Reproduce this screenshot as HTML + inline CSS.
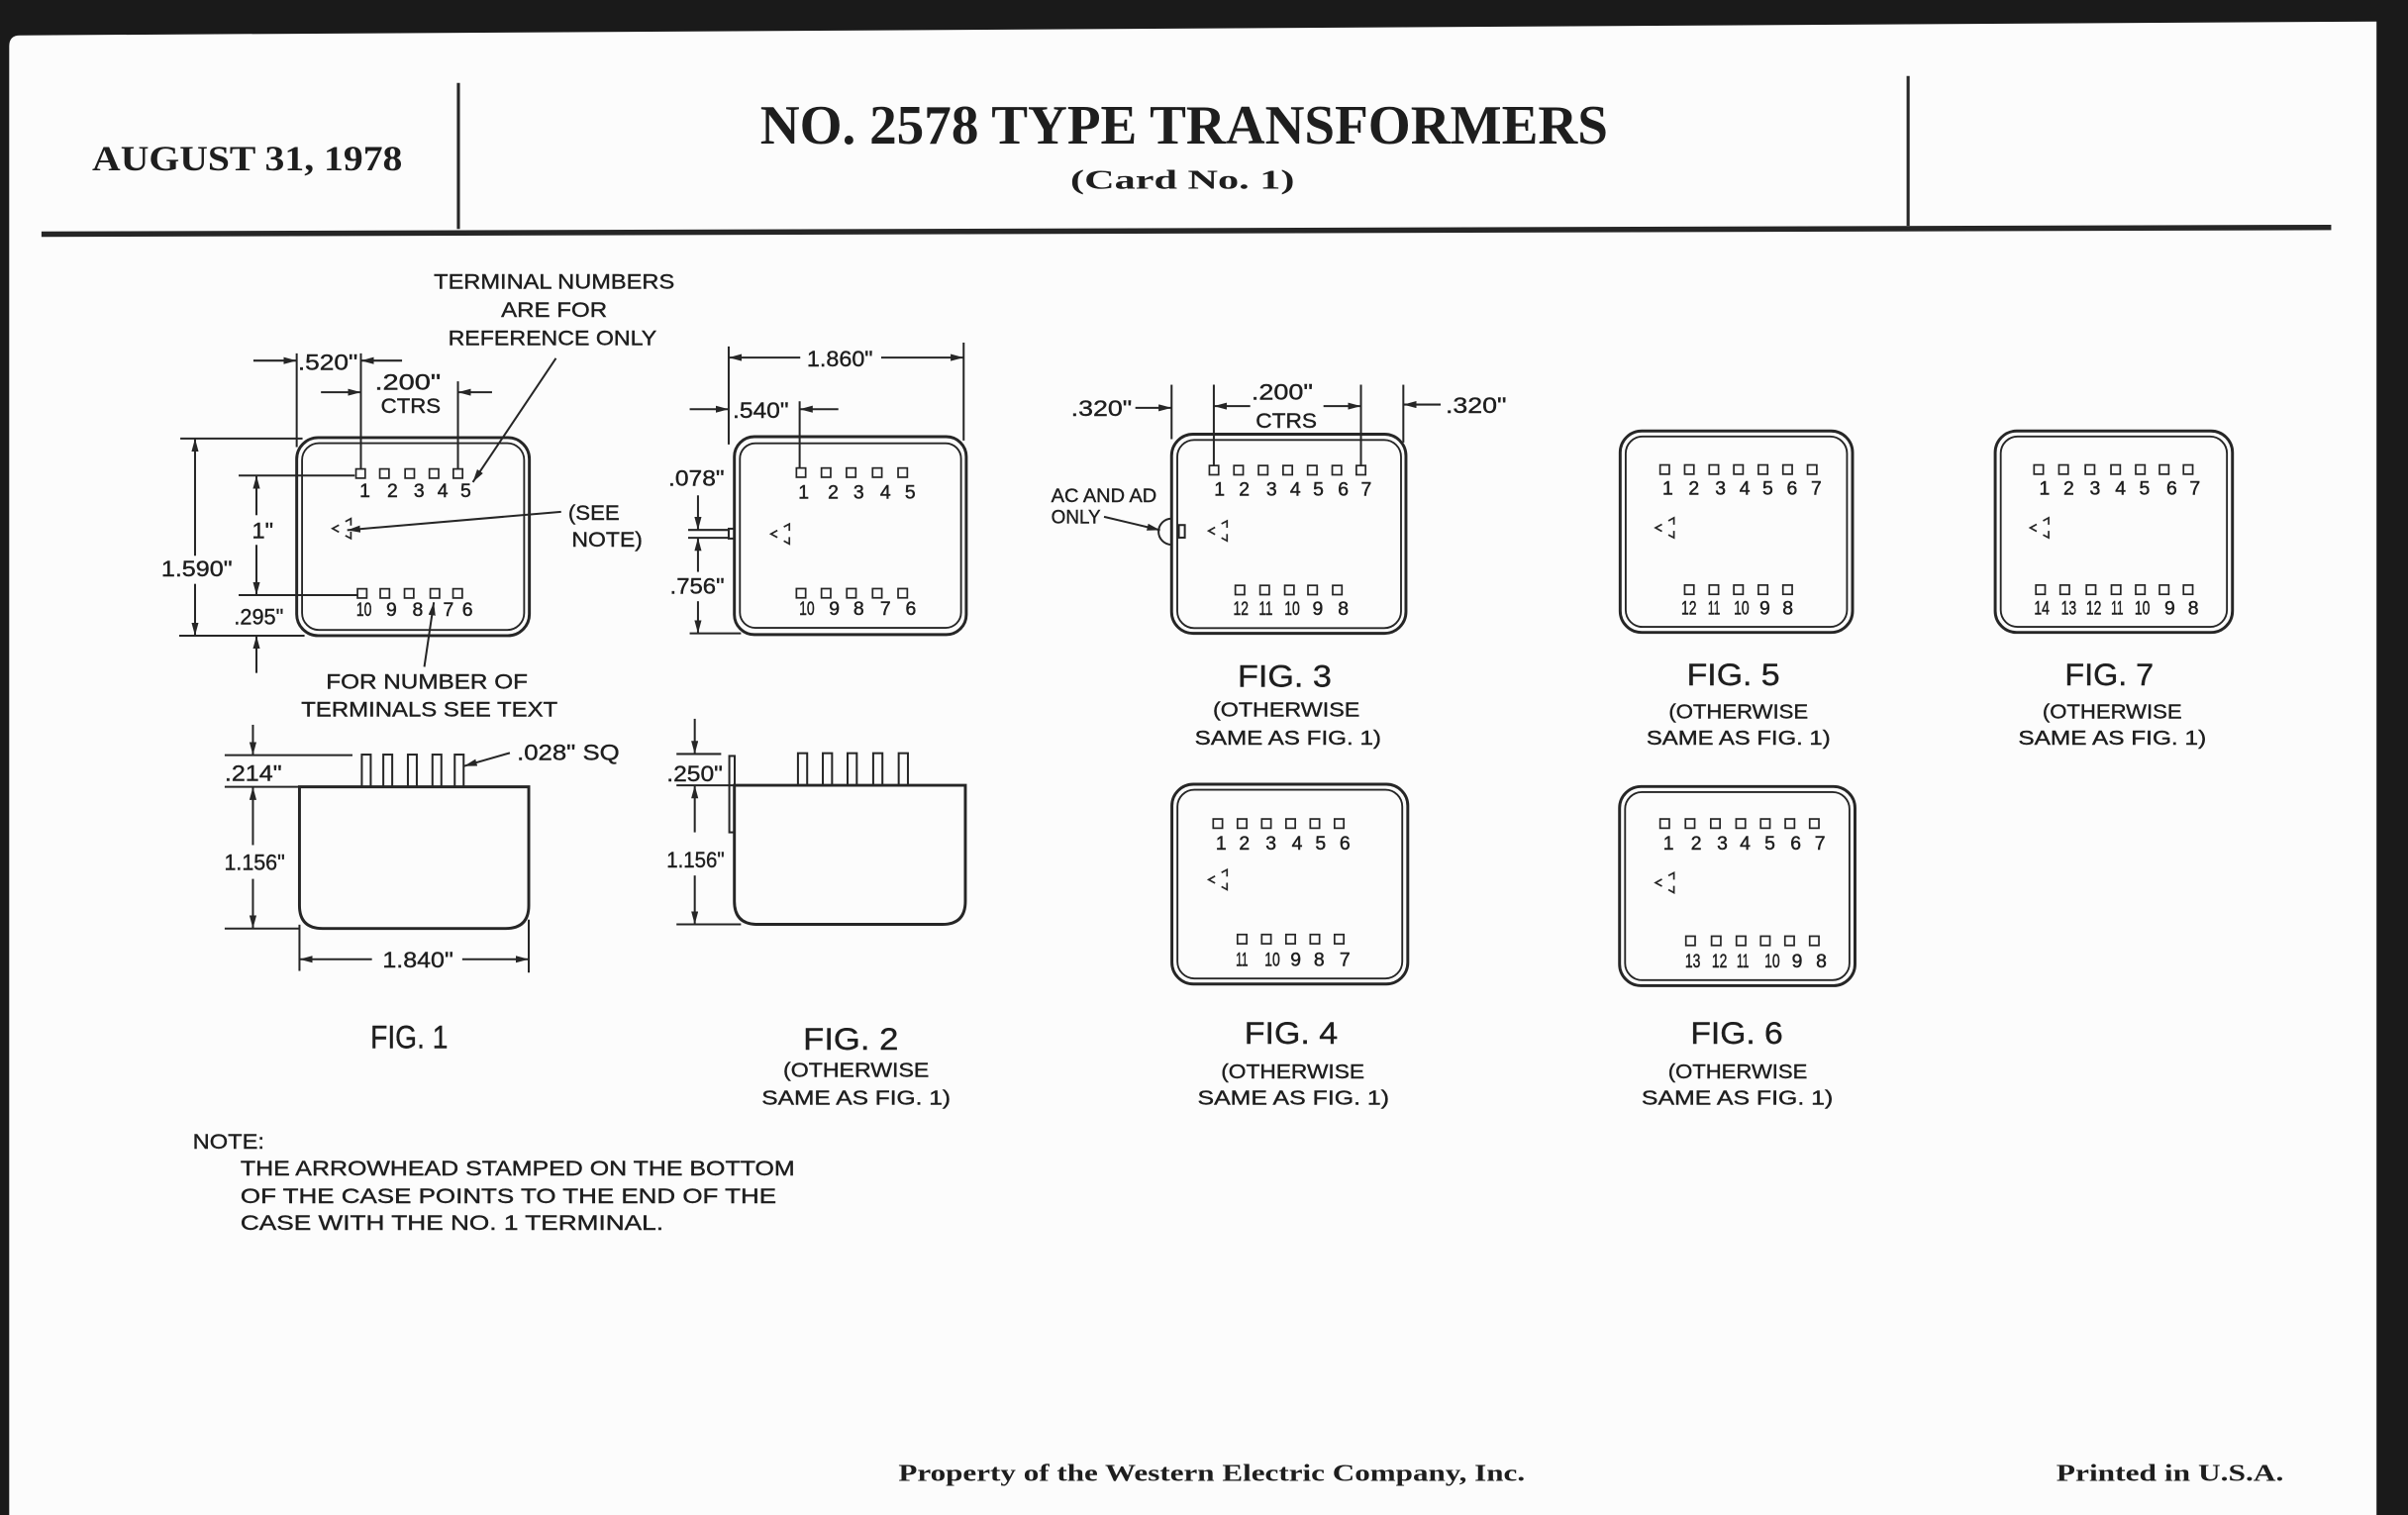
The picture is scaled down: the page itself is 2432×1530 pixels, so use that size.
<!DOCTYPE html>
<html><head><meta charset="utf-8"><style>
html,body{margin:0;padding:0;background:#1a1a1a;}
svg{display:block;}
.t{font-family:"Liberation Sans",sans-serif;fill:#1e1e1e;stroke:#1e1e1e;stroke-width:0.25;}
.h{font-family:"Liberation Serif",serif;font-weight:bold;fill:#1e1e1e;}
.ln{stroke:#262626;stroke-width:1.3;fill:none;}
.ob{stroke:#262626;stroke-width:1.9;fill:none;}
.ib{stroke:#262626;stroke-width:1.2;fill:none;}
.n{font-family:"Liberation Sans",sans-serif;fill:#1e1e1e;stroke:#1e1e1e;stroke-width:0.3;font-size:12.5px;text-anchor:middle;}
</style></head><body>
<svg width="2432" height="1530" viewBox="0 0 1568 986" preserveAspectRatio="none" xmlns="http://www.w3.org/2000/svg">
<defs>
<marker id="a" markerUnits="userSpaceOnUse" markerWidth="10" markerHeight="6" refX="8.5" refY="2.3" orient="auto"><path d="M0,0 L8.5,2.3 L0,4.6 z" fill="#262626"/></marker>
<g id="s"><rect x="-3" y="0" width="6" height="6" fill="none" stroke="#262626" stroke-width="1.1"/></g>
<g id="st"><path d="M4.2 4.2 L0 6.5 L4.2 8.8 M8.4 1.95 L12 0 L12 4.5 M12 8.5 L12 13 L8.4 11.05" fill="none" stroke="#262626" stroke-width="1.1"/></g>
</defs>
<rect x="0" y="0" width="1568" height="986" fill="#1a1a1a"/>
<path d="M6,30 Q6,23 13,23 L1547.5,14 L1547.5,986 L6,986 Z" fill="#fcfcfc"/>

<!-- header -->
<line x1="298.5" y1="54" x2="298.5" y2="149" stroke="#262626" stroke-width="2"/>
<line x1="1242.5" y1="49.5" x2="1242.5" y2="147" stroke="#262626" stroke-width="2"/>
<line x1="27" y1="152.4" x2="1518" y2="148" stroke="#262626" stroke-width="3.5"/>
<text class="h" x="60" y="110.7" font-size="23" textLength="202" lengthAdjust="spacingAndGlyphs">AUGUST 31, 1978</text>
<text class="h" x="495" y="93.5" font-size="36" textLength="552" lengthAdjust="spacingAndGlyphs">NO. 2578 TYPE TRANSFORMERS</text>
<text class="h" x="697" y="122.9" font-size="18" textLength="146" lengthAdjust="spacingAndGlyphs">(Card No. 1)</text>
<text class="h" x="585" y="963.9" font-size="15.5" textLength="408" lengthAdjust="spacingAndGlyphs">Property of the Western Electric Company, Inc.</text>
<text class="h" x="1339" y="963.9" font-size="15.5" textLength="148" lengthAdjust="spacingAndGlyphs">Printed in U.S.A.</text>

<!-- FIG 1 top view -->
<rect class="ob" x="193.2" y="284.8" width="151.5" height="128.9" rx="14"/>
<rect class="ib" x="196.7" y="288.4" width="144.6" height="121.6" rx="11"/>
<use href="#s" x="234.8" y="305.2"/><use href="#s" x="250.3" y="305.2"/><use href="#s" x="266.8" y="305.2"/><use href="#s" x="282.6" y="305.2"/><use href="#s" x="298.2" y="305.2"/>
<text class="n" x="237.6" y="323.4">1</text><text class="n" x="255.6" y="323.4">2</text><text class="n" x="272.9" y="323.4">3</text><text class="n" x="288.3" y="323.4">4</text><text class="n" x="303.3" y="323.4">5</text>
<use href="#s" x="235.8" y="383.2"/><use href="#s" x="250.6" y="383.2"/><use href="#s" x="266.4" y="383.2"/><use href="#s" x="283.2" y="383.2"/><use href="#s" x="298" y="383.2"/>
<text class="n" x="237" y="400.8" textLength="10" lengthAdjust="spacingAndGlyphs">10</text><text class="n" x="254.9" y="400.8">9</text><text class="n" x="272" y="400.8">8</text><text class="n" x="292" y="400.8">7</text><text class="n" x="304.4" y="400.8">6</text>
<use href="#st" x="216.5" y="337.5"/>
<!-- fig1 dims -->
<line class="ln" x1="193.2" y1="230" x2="193.2" y2="291"/>
<line class="ln" x1="235" y1="230" x2="235" y2="305.2"/>
<line class="ln" x1="165" y1="234.7" x2="193.2" y2="234.7" marker-end="url(#a)"/>
<line class="ln" x1="261.8" y1="234.7" x2="235" y2="234.7" marker-end="url(#a)"/>
<text class="t" x="194" y="240.7" font-size="14.5" textLength="39" lengthAdjust="spacingAndGlyphs">.520"</text>
<line class="ln" x1="209" y1="255.3" x2="235" y2="255.3" marker-end="url(#a)"/>
<line class="ln" x1="320.4" y1="255.3" x2="298.2" y2="255.3" marker-end="url(#a)"/>
<line class="ln" x1="298.2" y1="248.2" x2="298.2" y2="305.2"/>
<text class="t" x="244" y="253.6" font-size="14.5" textLength="43" lengthAdjust="spacingAndGlyphs">.200"</text>
<text class="t" x="248" y="268.6" font-size="14" textLength="39" lengthAdjust="spacingAndGlyphs">CTRS</text>
<line class="ln" x1="117.4" y1="285.4" x2="197" y2="285.4"/>
<line class="ln" x1="116.7" y1="413.7" x2="198.3" y2="413.7"/>
<line class="ln" x1="127" y1="361.7" x2="127" y2="285.4" marker-end="url(#a)"/>
<line class="ln" x1="127" y1="380" x2="127" y2="413.7" marker-end="url(#a)"/>
<text class="t" x="105" y="375" font-size="14.5" textLength="46.3" lengthAdjust="spacingAndGlyphs">1.590"</text>
<line class="ln" x1="155.4" y1="309.5" x2="231" y2="309.5"/>
<line class="ln" x1="155.4" y1="387.3" x2="232.5" y2="387.3"/>
<line class="ln" x1="167" y1="335.3" x2="167" y2="309.5" marker-end="url(#a)"/>
<line class="ln" x1="167" y1="354.6" x2="167" y2="387.3" marker-end="url(#a)"/>
<text class="t" x="164" y="350.3" font-size="14.5" textLength="14" lengthAdjust="spacingAndGlyphs">1"</text>
<line class="ln" x1="167" y1="438" x2="167" y2="413.7" marker-end="url(#a)"/>
<text class="t" x="152.4" y="406.2" font-size="14.5" textLength="32.2" lengthAdjust="spacingAndGlyphs">.295"</text>
<text class="t" x="282.5" y="188" font-size="13.5" textLength="156.7" lengthAdjust="spacingAndGlyphs">TERMINAL NUMBERS</text>
<text class="t" x="326.3" y="206.3" font-size="13.5" textLength="69" lengthAdjust="spacingAndGlyphs">ARE FOR</text>
<text class="t" x="291.8" y="224.6" font-size="13.5" textLength="135.8" lengthAdjust="spacingAndGlyphs">REFERENCE ONLY</text>
<line class="ln" x1="362" y1="233.2" x2="307.9" y2="313.8" marker-end="url(#a)"/>
<text class="t" x="370" y="338.5" font-size="14" textLength="33.4" lengthAdjust="spacingAndGlyphs">(SEE</text>
<text class="t" x="372.3" y="355.7" font-size="14" textLength="46.1" lengthAdjust="spacingAndGlyphs">NOTE)</text>
<line class="ln" x1="365.4" y1="333.1" x2="226.1" y2="345" marker-end="url(#a)"/>
<text class="t" x="212.3" y="448.1" font-size="13.5" textLength="131.3" lengthAdjust="spacingAndGlyphs">FOR NUMBER OF</text>
<text class="t" x="196.2" y="466.4" font-size="13.5" textLength="166.9" lengthAdjust="spacingAndGlyphs">TERMINALS SEE TEXT</text>
<line class="ln" x1="276.3" y1="434" x2="282.5" y2="392" marker-end="url(#a)"/>

<!-- FIG 1 side view -->
<path class="ob" d="M195,512.1 L195,589.3 Q195,604.3 210,604.3 L329.3,604.3 Q344.3,604.3 344.3,589.3 L344.3,512.1 Z"/>
<rect class="ln" x="235.6" y="491.1" width="5.8" height="21"/>
<rect class="ln" x="249.6" y="491.1" width="5.8" height="21"/>
<rect class="ln" x="265.6" y="491.1" width="5.8" height="21"/>
<rect class="ln" x="281.6" y="491.1" width="5.8" height="21"/>
<rect class="ln" x="296.1" y="491.1" width="5.8" height="21"/>
<text class="t" x="336.6" y="494.7" font-size="14.5" textLength="66.8" lengthAdjust="spacingAndGlyphs">.028" SQ</text>
<line class="ln" x1="332" y1="490" x2="302.1" y2="498.6" marker-end="url(#a)"/>
<line class="ln" x1="146.3" y1="491.5" x2="229.5" y2="491.5"/>
<line class="ln" x1="146.3" y1="512.1" x2="195" y2="512.1"/>
<line class="ln" x1="164.7" y1="471.7" x2="164.7" y2="491.5" marker-end="url(#a)"/>
<text class="t" x="146.3" y="508.3" font-size="14.5" textLength="37.2" lengthAdjust="spacingAndGlyphs">.214"</text>
<line class="ln" x1="164.7" y1="550" x2="164.7" y2="512.1" marker-end="url(#a)"/>
<line class="ln" x1="164.7" y1="572" x2="164.7" y2="604.3" marker-end="url(#a)"/>
<text class="t" x="146" y="566.3" font-size="14.5" textLength="39.5" lengthAdjust="spacingAndGlyphs">1.156"</text>
<line class="ln" x1="146.3" y1="604.3" x2="195" y2="604.3"/>
<line class="ln" x1="195" y1="601.8" x2="195" y2="631.9"/>
<line class="ln" x1="344.3" y1="598.5" x2="344.3" y2="633"/>
<line class="ln" x1="242.2" y1="624.3" x2="195" y2="624.3" marker-end="url(#a)"/>
<line class="ln" x1="301" y1="624.3" x2="344.3" y2="624.3" marker-end="url(#a)"/>
<text class="t" x="249.1" y="629.7" font-size="14.5" textLength="46.1" lengthAdjust="spacingAndGlyphs">1.840"</text>
<text class="t" x="241.2" y="682.3" font-size="21" textLength="50.5" lengthAdjust="spacingAndGlyphs">FIG. 1</text>

<!-- FIG 2 top view -->
<rect class="ob" x="478.2" y="284.2" width="151" height="128.8" rx="13"/>
<rect class="ib" x="481.8" y="288.5" width="144" height="120.1" rx="10"/>
<use href="#s" x="521.6" y="304.6"/><use href="#s" x="537.9" y="304.6"/><use href="#s" x="554.2" y="304.6"/><use href="#s" x="571.2" y="304.6"/><use href="#s" x="587.8" y="304.6"/>
<text class="n" x="523.3" y="324.5">1</text><text class="n" x="542.6" y="324.5">2</text><text class="n" x="559.2" y="324.5">3</text><text class="n" x="576.6" y="324.5">4</text><text class="n" x="592.7" y="324.5">5</text>
<use href="#s" x="521.6" y="383.1"/><use href="#s" x="537.9" y="383.1"/><use href="#s" x="554.4" y="383.1"/><use href="#s" x="571.2" y="383.1"/><use href="#s" x="587.8" y="383.1"/>
<text class="n" x="525.4" y="400.2" textLength="10" lengthAdjust="spacingAndGlyphs">10</text><text class="n" x="543.3" y="400.2">9</text><text class="n" x="559.2" y="400.2">8</text><text class="n" x="576.6" y="400.2">7</text><text class="n" x="593.1" y="400.2">6</text>
<use href="#st" x="502" y="341"/>
<rect class="ln" x="474.5" y="344.1" width="3.7" height="6.4"/>
<line class="ln" x1="474.5" y1="225.5" x2="474.5" y2="289.3"/>
<line class="ln" x1="627.5" y1="223" x2="627.5" y2="286.7"/>
<line class="ln" x1="521.1" y1="232.7" x2="474.5" y2="232.7" marker-end="url(#a)"/>
<line class="ln" x1="573.8" y1="232.7" x2="627.5" y2="232.7" marker-end="url(#a)"/>
<text class="t" x="525.4" y="238.3" font-size="14.5" textLength="43" lengthAdjust="spacingAndGlyphs">1.860"</text>
<line class="ln" x1="449.1" y1="266.3" x2="474.5" y2="266.3" marker-end="url(#a)"/>
<line class="ln" x1="545.9" y1="266.3" x2="520.7" y2="266.3" marker-end="url(#a)"/>
<line class="ln" x1="520.7" y1="261.2" x2="520.7" y2="304.6"/>
<text class="t" x="477.1" y="272" font-size="14.5" textLength="36.5" lengthAdjust="spacingAndGlyphs">.540"</text>
<text class="t" x="435.2" y="316.1" font-size="14.5" textLength="36.5" lengthAdjust="spacingAndGlyphs">.078"</text>
<line class="ln" x1="454.5" y1="322.4" x2="454.5" y2="344.9" marker-end="url(#a)"/>
<line class="ln" x1="448.1" y1="344.9" x2="474.5" y2="344.9"/>
<line class="ln" x1="448.1" y1="350" x2="474.5" y2="350"/>
<line class="ln" x1="454.5" y1="372.2" x2="454.5" y2="350" marker-end="url(#a)"/>
<text class="t" x="436.2" y="386.2" font-size="14.5" textLength="35.5" lengthAdjust="spacingAndGlyphs">.756"</text>
<line class="ln" x1="454.5" y1="391.3" x2="454.5" y2="412.2" marker-end="url(#a)"/>
<line class="ln" x1="449.1" y1="412.2" x2="482.5" y2="412.2"/>

<!-- FIG 2 side view -->
<path class="ob" d="M478.2,511.1 L478.2,586.6 Q478.2,601.6 493.2,601.6 L613.6,601.6 Q628.6,601.6 628.6,586.6 L628.6,511.1 Z"/>
<rect class="ln" x="474.9" y="492" width="3.5" height="49.7"/>
<rect class="ln" x="519.6" y="490.2" width="6" height="20.9"/>
<rect class="ln" x="535.8" y="490.2" width="6" height="20.9"/>
<rect class="ln" x="551.9" y="490.2" width="6" height="20.9"/>
<rect class="ln" x="568.6" y="490.2" width="6" height="20.9"/>
<rect class="ln" x="585.2" y="490.2" width="6" height="20.9"/>
<line class="ln" x1="440.5" y1="490.7" x2="469.6" y2="490.7"/>
<line class="ln" x1="440.5" y1="511.1" x2="478.2" y2="511.1"/>
<line class="ln" x1="452.4" y1="467.8" x2="452.4" y2="490.7" marker-end="url(#a)"/>
<text class="t" x="434.1" y="508.6" font-size="14.5" textLength="36.5" lengthAdjust="spacingAndGlyphs">.250"</text>
<line class="ln" x1="452.4" y1="541.7" x2="452.4" y2="511.1" marker-end="url(#a)"/>
<text class="t" x="434.1" y="564.7" font-size="14.5" textLength="37.6" lengthAdjust="spacingAndGlyphs">1.156"</text>
<line class="ln" x1="452.4" y1="569.8" x2="452.4" y2="601.6" marker-end="url(#a)"/>
<line class="ln" x1="440.5" y1="601.6" x2="482.5" y2="601.6"/>
<text class="t" x="523" y="683" font-size="20" textLength="62" lengthAdjust="spacingAndGlyphs">FIG. 2</text>
<text class="t" x="510" y="701" font-size="13" textLength="95" lengthAdjust="spacingAndGlyphs">(OTHERWISE</text>
<text class="t" x="496" y="719" font-size="13" textLength="123" lengthAdjust="spacingAndGlyphs">SAME AS FIG. 1)</text>

<!-- FIG 3 -->
<rect class="ob" x="762.9" y="282.6" width="152.6" height="129.6" rx="14"/>
<rect class="ib" x="766.6" y="286.3" width="145.7" height="122.5" rx="11"/>
<use href="#s" x="790.5" y="303"/><use href="#s" x="806.5" y="303"/><use href="#s" x="822.5" y="303"/><use href="#s" x="838.5" y="303"/><use href="#s" x="854.5" y="303"/><use href="#s" x="870.5" y="303"/><use href="#s" x="886.2" y="303"/>
<text class="n" x="794.1" y="322.4">1</text><text class="n" x="810.2" y="322.4">2</text><text class="n" x="828" y="322.4">3</text><text class="n" x="843.5" y="322.4">4</text><text class="n" x="858.5" y="322.4">5</text><text class="n" x="874.7" y="322.4">6</text><text class="n" x="889.7" y="322.4">7</text>
<use href="#s" x="807.4" y="381"/><use href="#s" x="823.5" y="381"/><use href="#s" x="839.6" y="381"/><use href="#s" x="854.7" y="381"/><use href="#s" x="870.8" y="381"/>
<text class="n" x="808" y="400.2" textLength="10" lengthAdjust="spacingAndGlyphs">12</text><text class="n" x="824.2" y="400.2" textLength="9" lengthAdjust="spacingAndGlyphs">11</text><text class="n" x="841.4" y="400.2" textLength="10" lengthAdjust="spacingAndGlyphs">10</text><text class="n" x="858.1" y="400.2">9</text><text class="n" x="874.7" y="400.2">8</text>
<use href="#st" x="787" y="339"/>
<rect class="ln" x="767.6" y="341.7" width="3.9" height="8.2"/>
<path class="ln" d="M762.9,337.5 A8.5,8.5 0 0 0 762.9,354.5"/>
<text class="t" x="684.5" y="326.7" font-size="12.5" textLength="68.7" lengthAdjust="spacingAndGlyphs">AC AND AD</text>
<text class="t" x="684.5" y="340.6" font-size="12.5" textLength="32.2" lengthAdjust="spacingAndGlyphs">ONLY</text>
<line class="ln" x1="718.9" y1="336.3" x2="755.4" y2="345" marker-end="url(#a)"/>
<text class="t" x="697.4" y="270.8" font-size="14.5" textLength="39.7" lengthAdjust="spacingAndGlyphs">.320"</text>
<line class="ln" x1="739.3" y1="265.4" x2="762.9" y2="265.4" marker-end="url(#a)"/>
<line class="ln" x1="762.9" y1="250.4" x2="762.9" y2="285.8"/>
<line class="ln" x1="790.4" y1="250.4" x2="790.4" y2="303"/>
<line class="ln" x1="886.2" y1="250.4" x2="886.2" y2="303"/>
<line class="ln" x1="814.1" y1="264.3" x2="790.4" y2="264.3" marker-end="url(#a)"/>
<line class="ln" x1="861.8" y1="264.3" x2="886.2" y2="264.3" marker-end="url(#a)"/>
<text class="t" x="814.9" y="260" font-size="14.5" textLength="40" lengthAdjust="spacingAndGlyphs">.200"</text>
<text class="t" x="817.7" y="278.3" font-size="14" textLength="39.8" lengthAdjust="spacingAndGlyphs">CTRS</text>
<line class="ln" x1="913.8" y1="250.4" x2="913.8" y2="288"/>
<line class="ln" x1="938.1" y1="263.3" x2="913.8" y2="263.3" marker-end="url(#a)"/>
<text class="t" x="941.3" y="268.6" font-size="14.5" textLength="39.7" lengthAdjust="spacingAndGlyphs">.320"</text>
<text class="t" x="805.9" y="447" font-size="20" textLength="61.2" lengthAdjust="spacingAndGlyphs">FIG. 3</text>
<text class="t" x="789.8" y="466.4" font-size="13" textLength="95.6" lengthAdjust="spacingAndGlyphs">(OTHERWISE</text>
<text class="t" x="778" y="484.6" font-size="13" textLength="121.4" lengthAdjust="spacingAndGlyphs">SAME AS FIG. 1)</text>

<!-- FIG 4 -->
<rect class="ob" x="763.1" y="510.4" width="153.6" height="130" rx="14"/>
<rect class="ib" x="766.7" y="514" width="146.4" height="122.8" rx="11"/>
<use href="#s" x="793" y="533"/><use href="#s" x="808.8" y="533"/><use href="#s" x="824.6" y="533"/><use href="#s" x="840.4" y="533"/><use href="#s" x="856.2" y="533"/><use href="#s" x="872" y="533"/>
<text class="n" x="795.1" y="552.8">1</text><text class="n" x="810.3" y="552.8">2</text><text class="n" x="827.6" y="552.8">3</text><text class="n" x="844.6" y="552.8">4</text><text class="n" x="859.9" y="552.8">5</text><text class="n" x="875.7" y="552.8">6</text>
<use href="#s" x="808.8" y="608.2"/><use href="#s" x="824.6" y="608.2"/><use href="#s" x="840.4" y="608.2"/><use href="#s" x="856.2" y="608.2"/><use href="#s" x="872" y="608.2"/>
<text class="n" x="808.7" y="628.6" textLength="8" lengthAdjust="spacingAndGlyphs">11</text><text class="n" x="828.5" y="628.6" textLength="10" lengthAdjust="spacingAndGlyphs">10</text><text class="n" x="843.7" y="628.6">9</text><text class="n" x="859" y="628.6">8</text><text class="n" x="875.7" y="628.6">7</text>
<use href="#st" x="787" y="566"/>
<text class="t" x="810.3" y="679.1" font-size="20" textLength="60.8" lengthAdjust="spacingAndGlyphs">FIG. 4</text>
<text class="t" x="795.1" y="701.7" font-size="13" textLength="93.4" lengthAdjust="spacingAndGlyphs">(OTHERWISE</text>
<text class="t" x="779.8" y="718.9" font-size="13" textLength="124.8" lengthAdjust="spacingAndGlyphs">SAME AS FIG. 1)</text>

<!-- FIG 5 -->
<rect class="ob" x="1055" y="280.5" width="151.3" height="131.1" rx="14"/>
<rect class="ib" x="1058.6" y="284.1" width="144.1" height="123.9" rx="11"/>
<use href="#s" x="1084" y="302.6"/><use href="#s" x="1100" y="302.6"/><use href="#s" x="1116" y="302.6"/><use href="#s" x="1132" y="302.6"/><use href="#s" x="1148" y="302.6"/><use href="#s" x="1164" y="302.6"/><use href="#s" x="1180" y="302.6"/>
<text class="n" x="1086" y="322">1</text><text class="n" x="1103" y="322">2</text><text class="n" x="1120.3" y="322">3</text><text class="n" x="1136.1" y="322">4</text><text class="n" x="1151.1" y="322">5</text><text class="n" x="1166.9" y="322">6</text><text class="n" x="1182.7" y="322">7</text>
<use href="#s" x="1100" y="380.8"/><use href="#s" x="1116" y="380.8"/><use href="#s" x="1132" y="380.8"/><use href="#s" x="1148" y="380.8"/><use href="#s" x="1164" y="380.8"/>
<text class="n" x="1099.8" y="399.8" textLength="10" lengthAdjust="spacingAndGlyphs">12</text><text class="n" x="1116.1" y="399.8" textLength="8" lengthAdjust="spacingAndGlyphs">11</text><text class="n" x="1134" y="399.8" textLength="10" lengthAdjust="spacingAndGlyphs">10</text><text class="n" x="1149.2" y="399.8">9</text><text class="n" x="1164.2" y="399.8">8</text>
<use href="#st" x="1078" y="337"/>
<text class="t" x="1098.4" y="446" font-size="20" textLength="60.6" lengthAdjust="spacingAndGlyphs">FIG. 5</text>
<text class="t" x="1086.6" y="467.5" font-size="13" textLength="90.8" lengthAdjust="spacingAndGlyphs">(OTHERWISE</text>
<text class="t" x="1072.1" y="484.6" font-size="13" textLength="119.8" lengthAdjust="spacingAndGlyphs">SAME AS FIG. 1)</text>

<!-- FIG 6 -->
<rect class="ob" x="1054.6" y="511.9" width="153.3" height="129.6" rx="14"/>
<rect class="ib" x="1058.2" y="515.5" width="146.1" height="122.4" rx="11"/>
<use href="#s" x="1084" y="533"/><use href="#s" x="1100.5" y="533"/><use href="#s" x="1117" y="533"/><use href="#s" x="1133.5" y="533"/><use href="#s" x="1149.5" y="533"/><use href="#s" x="1165.5" y="533"/><use href="#s" x="1181.4" y="533"/>
<text class="n" x="1086.5" y="552.8">1</text><text class="n" x="1104.5" y="552.8">2</text><text class="n" x="1121.5" y="552.8">3</text><text class="n" x="1136.4" y="552.8">4</text><text class="n" x="1152.5" y="552.8">5</text><text class="n" x="1169.3" y="552.8">6</text><text class="n" x="1185.1" y="552.8">7</text>
<use href="#s" x="1100.8" y="609.3"/><use href="#s" x="1117.5" y="609.3"/><use href="#s" x="1133.7" y="609.3"/><use href="#s" x="1149.5" y="609.3"/><use href="#s" x="1165.3" y="609.3"/><use href="#s" x="1181.4" y="609.3"/>
<text class="n" x="1102.3" y="629.7" textLength="10" lengthAdjust="spacingAndGlyphs">13</text><text class="n" x="1119.7" y="629.7" textLength="10" lengthAdjust="spacingAndGlyphs">12</text><text class="n" x="1134.9" y="629.7" textLength="8" lengthAdjust="spacingAndGlyphs">11</text><text class="n" x="1154" y="629.7" textLength="10" lengthAdjust="spacingAndGlyphs">10</text><text class="n" x="1170.2" y="629.7">9</text><text class="n" x="1186" y="629.7">8</text>
<use href="#st" x="1078" y="568"/>
<text class="t" x="1100.8" y="679.1" font-size="20" textLength="60.2" lengthAdjust="spacingAndGlyphs">FIG. 6</text>
<text class="t" x="1086.2" y="701.7" font-size="13" textLength="90.7" lengthAdjust="spacingAndGlyphs">(OTHERWISE</text>
<text class="t" x="1068.9" y="718.9" font-size="13" textLength="124.7" lengthAdjust="spacingAndGlyphs">SAME AS FIG. 1)</text>

<!-- FIG 7 -->
<rect class="ob" x="1299.2" y="280.5" width="154.5" height="131.1" rx="14"/>
<rect class="ib" x="1302.8" y="284.1" width="147.3" height="123.9" rx="11"/>
<use href="#s" x="1327.5" y="302.6"/><use href="#s" x="1343.7" y="302.6"/><use href="#s" x="1360.9" y="302.6"/><use href="#s" x="1377.6" y="302.6"/><use href="#s" x="1393.7" y="302.6"/><use href="#s" x="1409.2" y="302.6"/><use href="#s" x="1424.8" y="302.6"/>
<text class="n" x="1331.3" y="322">1</text><text class="n" x="1347.1" y="322">2</text><text class="n" x="1364.2" y="322">3</text><text class="n" x="1380.8" y="322">4</text><text class="n" x="1396.4" y="322">5</text><text class="n" x="1414.2" y="322">6</text><text class="n" x="1429.2" y="322">7</text>
<use href="#s" x="1328.7" y="380.8"/><use href="#s" x="1344.5" y="380.8"/><use href="#s" x="1361.6" y="380.8"/><use href="#s" x="1377.9" y="380.8"/><use href="#s" x="1393.7" y="380.8"/><use href="#s" x="1409.2" y="380.8"/><use href="#s" x="1424.8" y="380.8"/>
<text class="n" x="1329.5" y="399.8" textLength="10" lengthAdjust="spacingAndGlyphs">14</text><text class="n" x="1347.1" y="399.8" textLength="10" lengthAdjust="spacingAndGlyphs">13</text><text class="n" x="1363.4" y="399.8" textLength="10" lengthAdjust="spacingAndGlyphs">12</text><text class="n" x="1378.7" y="399.8" textLength="8" lengthAdjust="spacingAndGlyphs">11</text><text class="n" x="1395" y="399.8" textLength="10" lengthAdjust="spacingAndGlyphs">10</text><text class="n" x="1412.9" y="399.8">9</text><text class="n" x="1428.2" y="399.8">8</text>
<use href="#st" x="1322" y="337"/>
<text class="t" x="1344.5" y="446" font-size="20" textLength="57.9" lengthAdjust="spacingAndGlyphs">FIG. 7</text>
<text class="t" x="1330" y="467.5" font-size="13" textLength="90.8" lengthAdjust="spacingAndGlyphs">(OTHERWISE</text>
<text class="t" x="1314.2" y="484.6" font-size="13" textLength="122.4" lengthAdjust="spacingAndGlyphs">SAME AS FIG. 1)</text>

<!-- NOTE -->
<text class="t" x="125.5" y="747.5" font-size="13.5" textLength="46.6" lengthAdjust="spacingAndGlyphs">NOTE:</text>
<text class="t" x="156.6" y="765.1" font-size="13.5" textLength="360.9" lengthAdjust="spacingAndGlyphs">THE ARROWHEAD STAMPED ON THE BOTTOM</text>
<text class="t" x="156.6" y="782.9" font-size="13.5" textLength="348.9" lengthAdjust="spacingAndGlyphs">OF THE CASE POINTS TO THE END OF THE</text>
<text class="t" x="156.6" y="800.5" font-size="13.5" textLength="275.4" lengthAdjust="spacingAndGlyphs">CASE WITH THE NO. 1 TERMINAL.</text>
</svg>
</body></html>
